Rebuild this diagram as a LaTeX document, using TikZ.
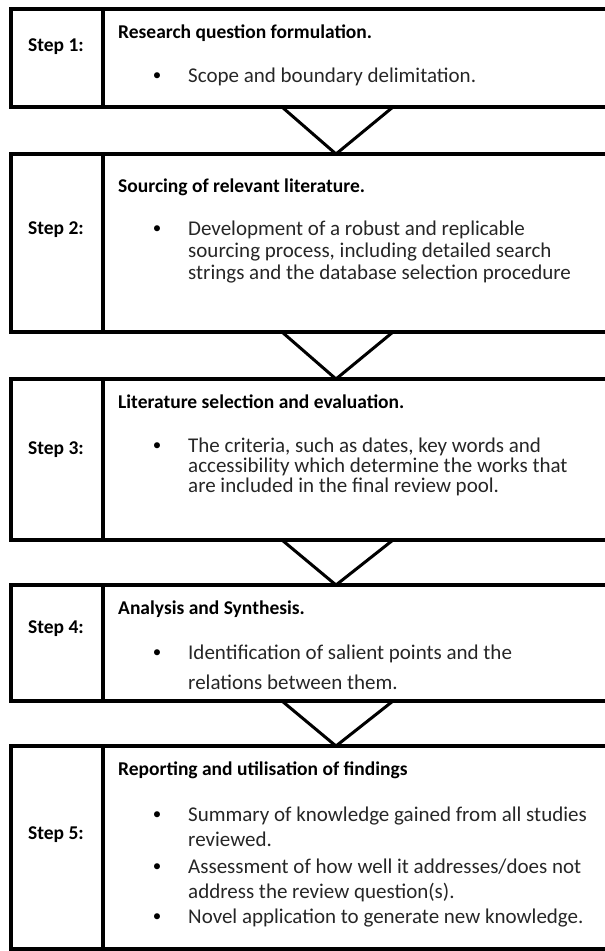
\documentclass[tikz,border=0pt]{standalone}
\usepackage{fontspec}
\setmainfont{Carlito}
\usetikzlibrary{positioning}

\begin{document}
\begin{tikzpicture}[x=1pt,y=-1pt,
    stepbox/.style={draw,line width=4pt,inner sep=0pt,outer sep=0pt,
        anchor=north west,minimum width=620pt},
    steplabel/.style={font=\bfseries\fontsize{19.5}{22}\selectfont},
    boxtitle/.style={anchor=base west,inner sep=0pt,
        font=\bfseries\fontsize{19.5}{22}\selectfont},
    bul/.style={inner sep=0pt,font=\fontsize{17}{22}\selectfont},
    itemtext/.style={anchor=base west,inner sep=0pt,
        text=black!85,font=\fontsize{21}{#1}\selectfont},
    vee/.style={line width=3pt}]
\useasboundingbox (0,0) rectangle (605,951);

% boxes
\node[stepbox,minimum height=98pt]  (box1) at (11,9)   {};
\node[stepbox,minimum height=178pt] (box2) at (11,154) {};
\node[stepbox,minimum height=161pt] (box3) at (11,379) {};
\node[stepbox,minimum height=116pt] (box4) at (11,585) {};
\node[stepbox,minimum height=203pt] (box5) at (11,746) {};

% column divider and the V connectors
\coordinate (dv) at (103,0);
\coordinate (vl) at (282,0);
\coordinate (vc) at (336,0);
\coordinate (vr) at (393,0);
\draw[line width=4pt] (box1.north west -| dv) -- (box1.south west -| dv);
\draw[line width=4pt] (box2.north west -| dv) -- (box2.south west -| dv);
\draw[line width=4pt] (box3.north west -| dv) -- (box3.south west -| dv);
\draw[line width=4pt] (box4.north west -| dv) -- (box4.south west -| dv);
\draw[line width=4pt] (box5.north west -| dv) -- (box5.south west -| dv);
\draw[vee] (box1.south -| vl) -- (box2.north -| vc) -- (box1.south -| vr);
\draw[vee] (box2.south -| vl) -- (box3.north -| vc) -- (box2.south -| vr);
\draw[vee] (box3.south -| vl) -- (box4.north -| vc) -- (box3.south -| vr);
\draw[vee] (box4.south -| vl) -- (box5.north -| vc) -- (box4.south -| vr);

% step labels
\node[steplabel] (lab1) at (56,47)  {Step 1:};
\node[steplabel] (lab2) at (56,230) {Step 2:};
\node[steplabel] (lab3) at (56,450) {Step 3:};
\node[steplabel] (lab4) at (56,629) {Step 4:};
\node[steplabel] (lab5) at (56,835) {Step 5:};

% step 1
\node[boxtitle] (tit1) at (118,38) {Research question formulation.};
\node[bul] (bul1) at (157,77) {\textbullet};
\node[itemtext=22] (txt1) at (188,82) {Scope and boundary delimitation.};

% step 2
\node[boxtitle] (tit2) at (118,192) {Sourcing of relevant literature.};
\node[bul] (bul2) at (157,230) {\textbullet};
\node[itemtext=22] (txt2) at (188,235)
    {\parbox[t]{410pt}{Development of a robust and replicable\\
     sourcing process, including detailed search\\
     strings and the database selection procedure}};

% step 3
\node[boxtitle] (tit3) at (118,408) {Literature selection and evaluation.};
\node[bul] (bul3) at (157,447) {\textbullet};
\node[itemtext=20] (txt3) at (188,452)
    {\parbox[t]{410pt}{The criteria, such as dates, key words and\\
     accessibility which determine the works that\\
     are included in the final review pool.}};

% step 4
\node[boxtitle] (tit4) at (118,614) {Analysis and Synthesis.};
\node[bul] (bul4) at (157,654) {\textbullet};
\node[itemtext=30] (txt4) at (188,659)
    {\parbox[t]{410pt}{Identification of salient points and the\\
     relations between them.}};

% step 5
\node[boxtitle] (tit5) at (118,775) {Reporting and utilisation of findings};
\node[bul] (bul5a) at (157,816) {\textbullet};
\node[itemtext=25] (txt5a) at (188,821)
    {\parbox[t]{410pt}{Summary of knowledge gained from all studies\\
     reviewed.}};
\node[bul] (bul5b) at (157,868) {\textbullet};
\node[itemtext=25] (txt5b) at (188,873)
    {\parbox[t]{410pt}{Assessment of how well it addresses/does not\\
     address the review question(s).}};
\node[bul] (bul5c) at (157,918) {\textbullet};
\node[itemtext=25] (txt5c) at (188,923)
    {Novel application to generate new knowledge.};
\end{tikzpicture}
\end{document}
